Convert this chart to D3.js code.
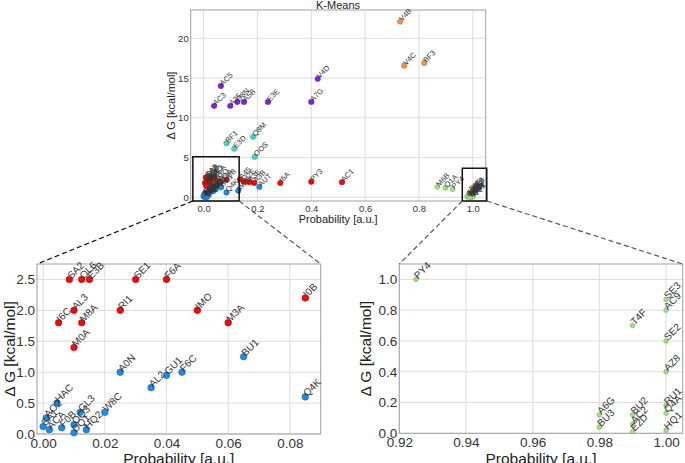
<!DOCTYPE html>
<html>
<head>
<meta charset="utf-8">
<script src="https://cdn.jsdelivr.net/npm/d3@7"></script>
<style>
    body { margin: 0; background: #fff; }
    svg { font-family: "Liberation Sans", Arial, sans-serif; }
    .grid line { stroke: #dddddd; stroke-width: 1; }
    .frame { fill: none; stroke: #a0a0a0; stroke-width: 1; }
    .tick text { fill: #333; }
    .ptlabel { fill: #333; }
</style>
</head>
<body>
<div id="chart"></div>
<script>
// k-means clusters and their colours
const clusterColors = {
    purple: "#7f22e6",
    blue: "#1f8ae8",
    cyan: "#44d8c4",
    green: "#9fe27f",
    orange: "#f5924a",
    red: "#f00a0a"
};

// every point: name, probability, delta G, per cluster
const redNames = ["SA2","OL6","E3B","SE1","F6A","I6C","AL3","M8A","M0A","RI1","IMO","M3A","I0B","A45","V2E","A3E","A3B","I6A","PY3","AC1"];
const redProb  = [0.0085,0.0125,0.015,0.03,0.04,0.005,0.01,0.0125,0.01,0.025,0.05,0.06,0.085,0.135,0.15,0.17,0.188,0.285,0.40,0.514];
const redDG    = [2.5,2.5,2.5,2.5,2.5,1.8,2.0,1.8,1.4,2.0,2.0,1.8,2.2,2.25,1.95,1.9,1.8,1.8,1.95,1.9];

const blueNames = ["A0N","AL2","GU1","F6C","BU1","Q4K","W8C","HAC","SA1","AO2","ACA","F0B","GL3","OQ3","DQ1","HQ2","W2B","AUT"];
const blueProb  = [0.025,0.035,0.04,0.045,0.065,0.085,0.02,0.0045,0.0,0.001,0.002,0.006,0.012,0.01,0.01,0.014,0.129,0.207];
const blueDG    = [1.0,0.75,0.95,1.0,1.25,0.6,0.35,0.5,0.12,0.26,0.07,0.1,0.35,0.15,0.02,0.07,0.83,1.3];

const cyanNames = ["BF1","E3D","Q8M","OOS"];
const cyanProb  = [0.085,0.114,0.184,0.19];
const cyanDG    = [6.8,6.1,7.6,5.1];

const purpleNames = ["AC5","AC3","A25","D8N","A5B","E3E","A7G","V4D"];
const purpleProb  = [0.064,0.039,0.099,0.125,0.15,0.239,0.40,0.424];
const purpleDG    = [14.0,11.5,11.5,12.0,12.0,12.0,12.0,14.9];

const orangeNames = ["V4B","V4C","BF3"];
const orangeProb  = [0.73,0.745,0.82];
const orangeDG    = [22.1,16.55,16.9];

const greenNames = ["M6B","Q1A","PY4","SE3","AC9","T4F","SE2","AZ8","RU1","Q4A","HQ1","A6G","BU3","BU2","AC2","E2D"];
const greenProb  = [0.868,0.898,0.925,1.0,1.0,0.99,1.0,1.0,1.0,1.0,1.0,0.98,0.98,0.99,0.99,0.99];
const greenDG    = [1.3,1.17,1.0,0.87,0.80,0.70,0.60,0.40,0.18,0.13,0.02,0.12,0.04,0.12,0.06,0.01];

// tick labels
const mainXTicks = [0, 0.2, 0.4, 0.6, 0.8, 1.0];
const mainYTicks = [0, 5, 10, 15, 20];
const leftXTicks = [0, 0.02, 0.04, 0.06, 0.08];
const leftYTicks = [0, 0.5, 1.0, 1.5, 2.0, 2.5];
const rightXTicks = [0.92, 0.94, 0.96, 0.98, 1.00];
const rightYTicks = [0, 0.2, 0.4, 0.6, 0.8, 1.0];

function build(cluster, names, prob, dg) {
    return names.map(function(n, i) {
        return {name: n, p: prob[i], g: dg[i], cluster: cluster};
    });
}
const points = [].concat(
    build("red", redNames, redProb, redDG),
    build("blue", blueNames, blueProb, blueDG),
    build("cyan", cyanNames, cyanProb, cyanDG),
    build("purple", purpleNames, purpleProb, purpleDG),
    build("orange", orangeNames, orangeProb, orangeDG),
    build("green", greenNames, greenProb, greenDG)
);

const width = 685, height = 463;
const svg = d3.select("#chart").append("svg")
    .attr("width", width)
    .attr("height", height);

function panel(opt) {
    const x = d3.scaleLinear().domain(opt.xDomain).range([opt.left, opt.right]);
    const y = d3.scaleLinear().domain(opt.yDomain).range([opt.bottom, opt.top]);
    const g = svg.append("g");

    // grid
    const grid = g.append("g").attr("class", "grid");
    grid.selectAll(".gx").data(opt.xTicks).enter().append("line")
        .attr("x1", d => x(d)).attr("x2", d => x(d))
        .attr("y1", opt.top).attr("y2", opt.bottom);
    grid.selectAll(".gy").data(opt.yTicks).enter().append("line")
        .attr("y1", d => y(d)).attr("y2", d => y(d))
        .attr("x1", opt.left).attr("x2", opt.right);

    // axes without tick marks
    g.append("g")
        .attr("transform", `translate(0,${opt.bottom})`)
        .call(d3.axisBottom(x).tickValues(opt.xTicks).tickFormat(d3.format(opt.xFmt)).tickSize(0).tickPadding(opt.pad))
        .call(a => a.select(".domain").remove())
        .selectAll("text").attr("font-size", opt.tickSize);
    g.append("g")
        .attr("transform", `translate(${opt.left},0)`)
        .call(d3.axisLeft(y).tickValues(opt.yTicks).tickFormat(d3.format(opt.yFmt)).tickSize(0).tickPadding(opt.pad - 2))
        .call(a => a.select(".domain").remove())
        .selectAll("text").attr("font-size", opt.tickSize);

    g.append("rect").attr("class", "frame")
        .attr("x", opt.left).attr("y", opt.top)
        .attr("width", opt.right - opt.left).attr("height", opt.bottom - opt.top);

    const xd = x.domain(), yd = y.domain();
    const data = points.filter(d => (!opt.only || opt.only.includes(d.cluster)) &&
        d.p >= xd[0] && d.p <= xd[1] && d.g >= yd[0] && d.g <= yd[1]);

    g.selectAll("circle").data(data).enter().append("circle")
        .attr("cx", d => x(d.p))
        .attr("cy", d => y(d.g))
        .attr("r", d => d.cluster === "green" ? opt.rGreen : opt.r)
        .attr("fill", d => clusterColors[d.cluster])
        .attr("stroke", d => d3.color(clusterColors[d.cluster]).darker(0.8))
        .attr("stroke-width", 0.6);

    g.selectAll(".ptlabel").data(data).enter().append("text")
        .attr("class", "ptlabel")
        .attr("font-size", opt.labelSize)
        .attr("fill", opt.labelColor)
        .attr("transform", d => `translate(${x(d.p) + 2},${y(d.g)}) rotate(-45)`)
        .text(d => d.name);

    // axis labels
    g.append("text")
        .attr("x", (opt.left + opt.right) / 2)
        .attr("y", opt.xLabelY)
        .attr("text-anchor", "middle")
        .attr("font-size", opt.labelFont)
        .attr("fill", "#222")
        .text("Probability [a.u.]");
    g.append("text")
        .attr("transform", `translate(${opt.yLabelX},${(opt.top + opt.bottom) / 2}) rotate(-90)`)
        .attr("text-anchor", "middle")
        .attr("font-size", opt.labelFont)
        .attr("fill", "#222")
        .text("\u0394 G [kcal/mol]");

    return {x: x, y: y};
}

const main = panel({
    left: 190.7, right: 485.7, top: 10, bottom: 201,
    xDomain: [-0.048, 1.048], yDomain: [-0.47, 23.56],
    xTicks: mainXTicks, yTicks: mainYTicks, xFmt: ".1f", yFmt: "d",
    tickSize: 9.5, pad: 4, labelSize: 7.5, labelColor: "#3a3a3a", labelFont: 11,
    r: 2.7, rGreen: 2.4, xLabelY: 223, yLabelX: 175
});

const left = panel({
    left: 37, right: 320.7, top: 264, bottom: 434,
    xDomain: [-0.002, 0.09], yDomain: [0, 2.75],
    xTicks: leftXTicks, yTicks: leftYTicks, xFmt: ".2f", yFmt: ".1f",
    tickSize: 13.5, pad: 4, labelSize: 10, labelColor: "#333", labelFont: 15.5,
    only: ["red", "blue"],
    r: 3.3, rGreen: 2.2, xLabelY: 464, yLabelX: 15
});

const right = panel({
    left: 399.3, right: 682.7, top: 264, bottom: 433.3,
    xDomain: [0.92, 1.005], yDomain: [0, 1.1],
    xTicks: rightXTicks, yTicks: rightYTicks, xFmt: ".2f", yFmt: ".1f",
    tickSize: 13.5, pad: 4, labelSize: 10, labelColor: "#333", labelFont: 15.5,
    only: ["green"],
    r: 3.3, rGreen: 2.3, xLabelY: 464, yLabelX: 371
});

// title
svg.append("text")
    .attr("x", 338).attr("y", 9)
    .attr("text-anchor", "middle")
    .attr("font-size", 11)
    .attr("fill", "#222")
    .text("K-Means");

// zoom boxes on main plot, with dashed connectors to the insets
const boxes = [
    {x0: -0.04, x1: 0.132, y0: -0.47, y1: 5.1, inset: {l: 37, r: 320.7, t: 264}, dashL: "#111", dashR: "#4a5878"},
    {x0: 0.961, x1: 1.052, y0: -0.47, y1: 3.65, inset: {l: 399.3, r: 682.7, t: 264}, dashL: "#4a5878", dashR: "#4a5878"}
];
boxes.forEach(function(b) {
    const bx0 = main.x(b.x0), bx1 = main.x(b.x1);
    const by0 = main.y(b.y0), by1 = main.y(b.y1);
    svg.append("rect")
        .attr("x", bx0).attr("y", by1)
        .attr("width", bx1 - bx0).attr("height", by0 - by1)
        .attr("fill", "none").attr("stroke", "#111").attr("stroke-width", 1.5);
    svg.append("line")
        .attr("x1", bx0).attr("y1", by0).attr("x2", b.inset.l).attr("y2", b.inset.t)
        .attr("stroke", b.dashL).attr("stroke-width", 1.2).attr("stroke-dasharray", "5,3");
    svg.append("line")
        .attr("x1", bx1).attr("y1", by0).attr("x2", b.inset.r).attr("y2", b.inset.t)
        .attr("stroke", b.dashR).attr("stroke-width", 1.2).attr("stroke-dasharray", "5,3");
});
</script>
</body>
</html>
